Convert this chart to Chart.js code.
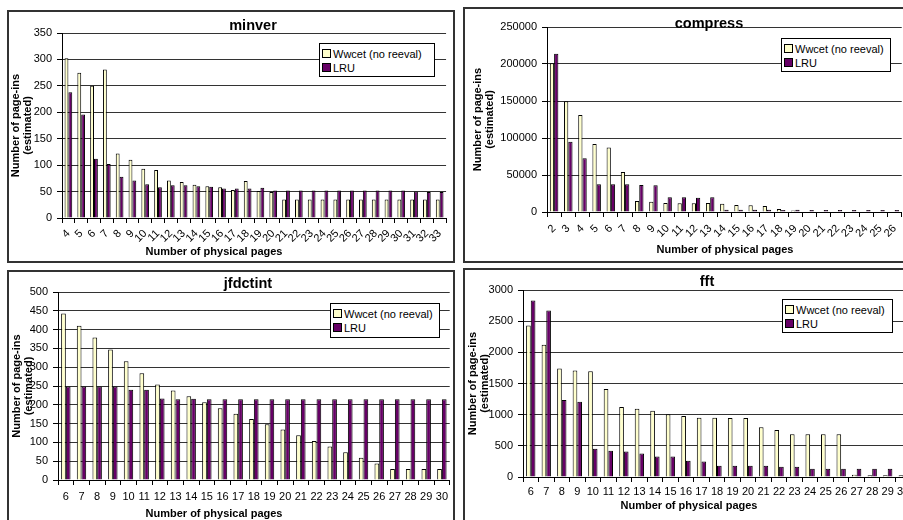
<!DOCTYPE html>
<html>
<head>
<meta charset="utf-8">
<script src="https://cdn.jsdelivr.net/npm/chart.js@4.4.0/dist/chart.umd.min.js"></script>
<style>
html, body { margin: 0; overflow: hidden; }
body { width: 903px; height: 520px; position: relative; background: #fff; font-family: 'Liberation Sans', Arial, sans-serif; color: #000; }
.panel { position: absolute; border: 2px solid #333; box-sizing: border-box; background: #fff; }
.panel canvas { display: block; }
.ttl { position: absolute; font-weight: bold; font-size: 14.5px; transform: translate(-50%, -50%); white-space: nowrap; }
.xttl { position: absolute; font-weight: bold; font-size: 11px; transform: translate(-50%, -50%); white-space: nowrap; }
.legend { position: absolute; border: 1px solid #000; background: #fff; font-size: 11px; box-sizing: border-box; padding: 3px 0 0 2px; }
.legend div { height: 14px; line-height: 14px; white-space: nowrap; }
.legend span { display: inline-block; width: 7px; height: 7px; border: 1px solid #000; margin-right: 2px; }
</style>
</head>
<body>

<div class="panel" style="left:7px;top:10px;width:448px;height:253px"><canvas id="minverChart" width="444" height="249"></canvas></div>
<div class="panel" style="left:463px;top:7px;width:448px;height:256px"><canvas id="compressChart" width="444" height="252"></canvas></div>
<div class="panel" style="left:7px;top:270px;width:448px;height:262px"><canvas id="jfdctintChart" width="444" height="258"></canvas></div>
<div class="panel" style="left:463px;top:268px;width:452px;height:262px"><canvas id="fftChart" width="448" height="258"></canvas></div>

<div class="ttl" style="left:253px;top:25px">minver</div>
<div class="ttl" style="left:709px;top:23px">compress</div>
<div class="ttl" style="left:248px;top:283px">jfdctint</div>
<div class="ttl" style="left:707px;top:281px">fft</div>

<div class="xttl" style="left:214px;top:251px">Number of physical pages</div>
<div class="xttl" style="left:725px;top:249px">Number of physical pages</div>
<div class="xttl" style="left:214px;top:513px">Number of physical pages</div>
<div class="xttl" style="left:689px;top:505px">Number of physical pages</div>

<div class="legend" id="minverLegend" style="left:319px;top:43px;width:116px;height:34px"></div>
<div class="legend" id="compressLegend" style="left:781px;top:38px;width:110px;height:34px"></div>
<div class="legend" id="jfdctintLegend" style="left:330px;top:303px;width:110px;height:35px"></div>
<div class="legend" id="fftLegend" style="left:782px;top:299px;width:111px;height:34px"></div>

<script>
// series names and fills shared by all four benchmarks
const seriesNames = ['Wwcet (no reeval)', 'LRU'];
const seriesColors = ['#FFFFCC', '#660066'];

// minver: pages 4..33
const minverPages = [4, 5, 6, 7, 8, 9, 10, 11, 12, 13, 14, 15, 16, 17, 18, 19, 20, 21, 22, 23, 24, 25, 26, 27, 28, 29, 30, 31, 32, 33];
const minverWwcet = [302, 275, 250, 281, 122, 110, 93, 91, 71, 68, 63, 60, 58, 53, 70, 51, 49, 35, 35, 35, 35, 35, 35, 35, 35, 35, 35, 35, 35, 35];
const minverLru = [238, 196, 112, 102, 78, 71, 64, 58, 62, 62, 60, 59, 56, 56, 56, 57, 52, 52, 52, 52, 52, 52, 52, 52, 52, 52, 52, 50, 49, 49];

// compress: pages 2..26 (chart is cut at the right edge)
const compressPages = [2, 3, 4, 5, 6, 7, 8, 9, 10, 11, 12, 13, 14, 15, 16, 17, 18, 19, 20, 21, 22, 23, 24, 25, 26];
const compressWwcet = [201000, 149500, 131000, 92000, 87000, 54000, 15000, 14000, 12000, 11700, 11700, 12000, 11000, 9500, 9000, 8000, 4000, 2000, 0, 0, 0, 0, 0, 0, 0];
const compressLru = [214000, 95000, 72500, 37400, 37400, 37400, 36500, 36000, 19800, 19800, 19400, 19800, 3000, 3000, 3000, 3000, 2700, 3000, 2700, 2700, 2700, 2700, 2700, 2700, 2700];

// jfdctint: pages 6..30
const jfdctintPages = [6, 7, 8, 9, 10, 11, 12, 13, 14, 15, 16, 17, 18, 19, 20, 21, 22, 23, 24, 25, 26, 27, 28, 29, 30];
const jfdctintWwcet = [443, 410, 379, 347, 316, 284, 254, 238, 223, 207, 191, 176, 162, 148, 134, 119, 104, 89, 74, 59, 44, 29, 29, 29, 29];
const jfdctintLru = [249, 249, 249, 249, 240, 240, 217, 215, 216, 215, 215, 215, 215, 215, 215, 215, 215, 215, 215, 215, 215, 215, 215, 215, 215];

// fft: pages 6..30
const fftPages = [6, 7, 8, 9, 10, 11, 12, 13, 14, 15, 16, 17, 18, 19, 20, 21, 22, 23, 24, 25, 26, 27, 28, 29, 30];
const fftWwcet = [2431, 2122, 1739, 1707, 1697, 1410, 1122, 1096, 1064, 1005, 979, 952, 952, 947, 947, 798, 755, 686, 686, 686, 686, 37, 27, 27, 27];
const fftLru = [2830, 2670, 1234, 1207, 452, 420, 410, 378, 330, 330, 260, 250, 181, 181, 181, 181, 165, 165, 133, 133, 133, 133, 133, 133, 133];

const FONT = "'Liberation Sans', Arial, sans-serif";

function fillLegend(id) {
	let html = '';
	for (let i = 0; i < seriesNames.length; i++) {
		html += '<div><span style="background:' + seriesColors[i] + '"></span>' + seriesNames[i] + '</div>';
	}
	document.getElementById(id).innerHTML = html;
}

//box holds the layout numbers only (axis sizes, paddings, y range)
function makeChart(id, pages, wwcet, lru, box) {
	let sets = [wwcet, lru].map((vals, i) => ({
		label: seriesNames[i],
		data: vals,
		backgroundColor: seriesColors[i],
		borderColor: '#000',
		borderWidth: 1,
		borderSkipped: 'start',
		categoryPercentage: 0.6,
		barPercentage: 1.0
	}));

	return new Chart(document.getElementById(id), {
		type: 'bar',
		data: { labels: pages.map(String), datasets: sets },
		options: {
			responsive: false,
			animation: false,
			layout: { padding: { top: box.padTop, right: box.padRight, left: 0, bottom: 0 } },
			plugins: { legend: { display: false }, title: { display: false }, tooltip: { enabled: false } },
			scales: {
				x: {
					grid: { drawOnChartArea: false, tickLength: 5, tickColor: '#000' },
					border: { color: '#000' },
					ticks: { autoSkip: false, minRotation: box.rotate, maxRotation: box.rotate, padding: box.tickPad, color: '#000', font: { family: FONT, size: 11 } },
					afterFit: s => { s.height = box.axisH; }
				},
				y: {
					min: 0, max: box.yMax,
					grid: { color: '#333', tickLength: 5, tickColor: '#000' },
					border: { color: '#000' },
					ticks: { stepSize: box.yStep, padding: 5, color: '#000', font: { family: FONT, size: 11 }, callback: v => String(v) },
					title: {
						display: true,
						text: ['Number of page-ins', '(estimated)'],
						color: '#000',
						font: { family: FONT, size: 11, weight: 'bold', lineHeight: 1.1 },
						padding: { top: box.titlePad, bottom: 0 }
					},
					afterFit: s => { s.width = box.axisW; }
				}
			}
		}
	});
} //end of makeChart()

makeChart('minverChart', minverPages, minverWwcet, minverLru,
	{ yMax: 350, yStep: 50, axisW: 53, axisH: 43, padTop: 21, padRight: 0, titlePad: 1, rotate: 45, tickPad: 4 });
makeChart('compressChart', compressPages, compressWwcet, compressLru,
	{ yMax: 250000, yStep: 50000, axisW: 82, axisH: 49, padTop: 18, padRight: 1, titlePad: 7, rotate: 45, tickPad: 5 });
makeChart('jfdctintChart', jfdctintPages, jfdctintWwcet, jfdctintLru,
	{ yMax: 500, yStep: 50, axisW: 49, axisH: 50, padTop: 20, padRight: 0, titlePad: 2, rotate: 0, tickPad: 5 });
makeChart('fftChart', fftPages, fftWwcet, fftLru,
	{ yMax: 3000, yStep: 500, axisW: 58, axisH: 51, padTop: 20, padRight: 2, titlePad: 2, rotate: 0, tickPad: 3 });

['minverLegend', 'compressLegend', 'jfdctintLegend', 'fftLegend'].forEach(fillLegend);
</script>
</body>
</html>
